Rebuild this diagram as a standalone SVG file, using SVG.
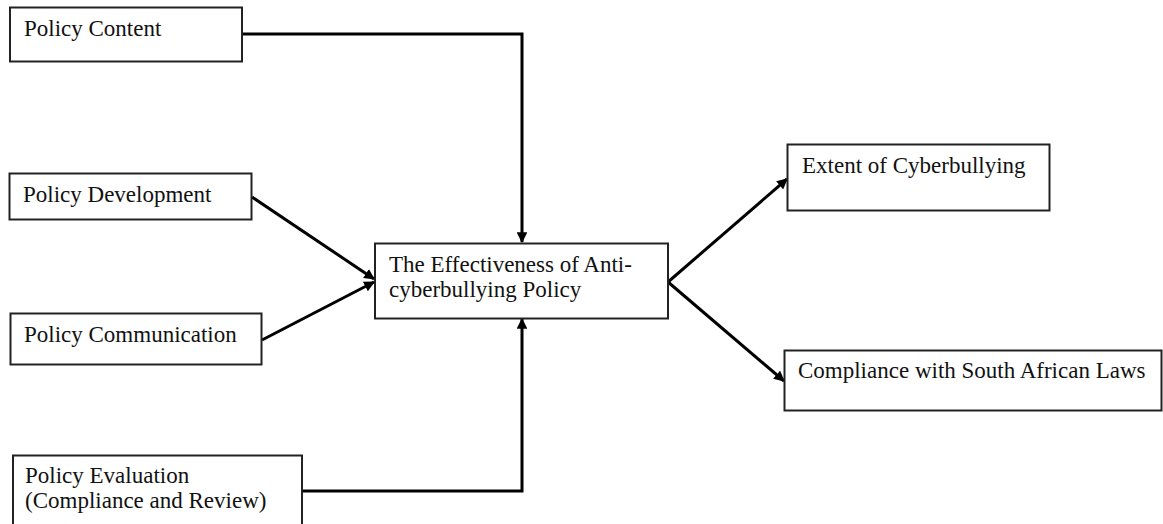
<svg xmlns="http://www.w3.org/2000/svg" width="1163" height="524" viewBox="0 0 1163 524">
<style>
.box{fill:#fff;stroke:#222;stroke-width:2}
.lbl{font-family:"Liberation Serif","Times New Roman",serif;font-size:23px;fill:#111}
.con{fill:none;stroke:#000;stroke-width:3}
</style>
<defs>
<marker id="ah" viewBox="0 0 10 10" refX="9" refY="5" markerWidth="3.6" markerHeight="3.6" orient="auto" markerUnits="strokeWidth">
<path d="M0,0 L10,5 L0,10 z" fill="#000"/>
</marker>
</defs>
<rect width="1163" height="524" fill="#fff"/>
<g id="connectors">
<polyline class="con" points="242,34 522,34 522,242" marker-end="url(#ah)"/>
<polyline class="con" points="302,491 522,491 522,319" marker-end="url(#ah)"/>
<line class="con" x1="252" y1="197" x2="374" y2="279" marker-end="url(#ah)"/>
<line class="con" x1="262" y1="340" x2="374" y2="282" marker-end="url(#ah)"/>
<line class="con" x1="668" y1="282" x2="787" y2="179" marker-end="url(#ah)"/>
<line class="con" x1="668" y1="282" x2="784" y2="381" marker-end="url(#ah)"/>
</g>
<g id="policy-content">
<rect class="box" x="10" y="7.5" width="232" height="54"/>
<text class="lbl" x="24" y="36">Policy Content</text>
</g>
<g id="policy-development">
<rect class="box" x="9.5" y="173.5" width="242" height="46"/>
<text class="lbl" x="23" y="202">Policy Development</text>
</g>
<g id="policy-communication">
<rect class="box" x="10.5" y="313.5" width="251" height="51"/>
<text class="lbl" x="24" y="342">Policy Communication</text>
</g>
<g id="policy-evaluation">
<rect class="box" x="13" y="455.5" width="289" height="80"/>
<text class="lbl" x="25" y="483">Policy Evaluation</text>
<text class="lbl" x="25" y="508">(Compliance and Review)</text>
</g>
<g id="effectiveness">
<rect class="box" x="375" y="243.5" width="293" height="75"/>
<text class="lbl" x="389" y="272">The Effectiveness of Anti-</text>
<text class="lbl" x="389" y="297">cyberbullying Policy</text>
</g>
<g id="extent">
<rect class="box" x="787.5" y="144.5" width="262" height="66"/>
<text class="lbl" x="802" y="173">Extent of Cyberbullying</text>
</g>
<g id="compliance">
<rect class="box" x="784.5" y="350.5" width="377" height="60"/>
<text class="lbl" x="798" y="378">Compliance with South African Laws</text>
</g>
</svg>
